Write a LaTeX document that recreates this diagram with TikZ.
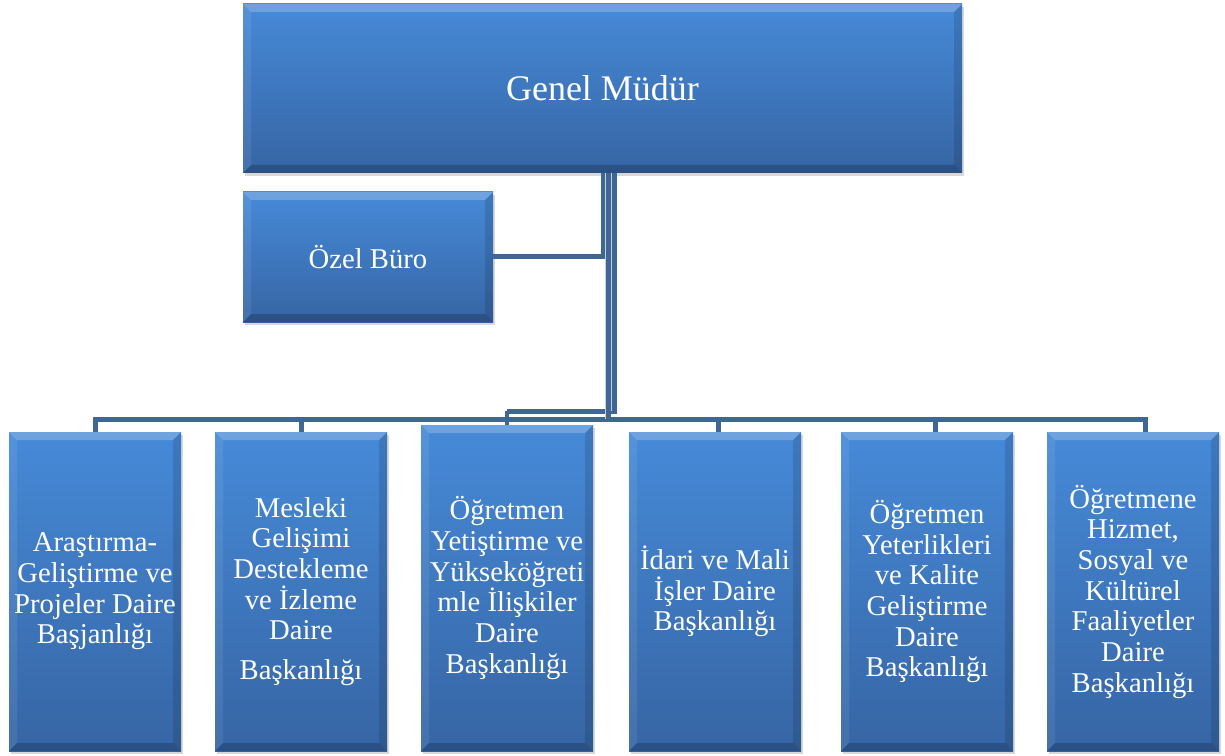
\documentclass[tikz,border=0pt]{standalone}
\usepackage{fontspec}
\setmainfont{Liberation Serif}
\usetikzlibrary{shadows,calc}
\definecolor{conn}{RGB}{62,103,150}
\definecolor{btop}{RGB}{70,138,216}
\definecolor{bbot}{RGB}{54,101,164}
\tikzset{
  orgbox/.style={draw=none, top color=btop, bottom color=bbot, text=white,
    align=center, inner sep=0pt,
    font=\fontsize{21.5}{23}\selectfont,
    drop shadow={shadow xshift=1.5pt, shadow yshift=-2pt, opacity=0.25, fill=black!60},
    path picture={
      \coordinate (nw) at (path picture bounding box.north west);
      \coordinate (ne) at (path picture bounding box.north east);
      \coordinate (sw) at (path picture bounding box.south west);
      \coordinate (se) at (path picture bounding box.south east);
      \fill[white,opacity=0.22] (nw) -- (ne) -- ($(ne)+(-6pt,-6pt)$) -- ($(nw)+(6pt,-6pt)$) -- cycle;
      \fill[white,opacity=0.08] (nw) -- ($(nw)+(6pt,-6pt)$) -- ($(sw)+(6pt,6pt)$) -- (sw) -- cycle;
      \fill[black,opacity=0.12] (ne) -- ($(ne)+(-6pt,-6pt)$) -- ($(se)+(-6pt,6pt)$) -- (se) -- cycle;
      \fill[black,opacity=0.2] (sw) -- ($(sw)+(6pt,6pt)$) -- ($(se)+(-6pt,6pt)$) -- (se) -- cycle;
    }},
  smallbox/.style={orgbox, minimum width=129pt, minimum height=239.25pt},
  connline/.style={draw=conn, line width=3.75pt}
}
\begin{document}
\begin{tikzpicture}[x=0.75pt,y=-0.75pt]
\useasboundingbox (0,0) rectangle (1225,756);
\fill[white] (0,0) rectangle (1225,756);

\coordinate (hb) at (0,419);
\coordinate (h3) at (0,411);

\node[orgbox, minimum width=539.25pt, minimum height=126.75pt,
      font=\fontsize{27}{30}\selectfont] (gm) at (602.5,88.5) {Genel Müdür};
\node[orgbox, minimum width=187.5pt, minimum height=97.5pt] (oz) at (368,257) {Özel Büro};

\node[smallbox] (b1) at (95,591.5) {Araştırma-\\Geliştirme ve\\Projeler Daire\\Başjanlığı};
\node[smallbox] (b2) at (301,591.5) {Mesleki\\Gelişimi\\Destekleme\\ve İzleme\\Daire\\[7pt]Başkanlığı};
\node[smallbox, minimum height=244.5pt] (b3) at (507,588) {Öğretmen\\Yetiştirme ve\\Yükseköğreti\\mle İlişkiler\\Daire\\Başkanlığı};
\node[smallbox] (b4) at (715,591.5) {İdari ve Mali\\İşler Daire\\Başkanlığı};
\node[smallbox] (b5) at (927,591.5) {Öğretmen\\Yeterlikleri\\ve Kalite\\Geliştirme\\Daire\\Başkanlığı};
\node[smallbox] (b6) at (1133,591.5) {Öğretmene\\Hizmet,\\Sosyal ve\\Kültürel\\Faaliyetler\\Daire\\Başkanlığı};

\coordinate (d1) at (b1.north);
\coordinate (d2) at (b2.north);
\coordinate (d4) at ([xshift=2.25pt]b4.north);
\coordinate (d5) at ([xshift=6pt]b5.north);
\coordinate (d6) at ([xshift=9pt]b6.north);

\draw[connline] ([xshift=0.375pt]gm.south) |- (oz.east);
\foreach \d in {d1,d2,d4,d5,d6}{
  \draw[connline] ([xshift=4.5pt]gm.south) |- (hb -| \d) -- (\d);
}
\draw[connline] ([xshift=8.625pt]gm.south) |- (h3 -| b3.north);
\draw[connline, line width=3pt] (h3 -| b3.north) -- (b3.north);
\draw[white!70!conn, line width=0.5pt] ([xshift=2.44pt]gm.south) -- ([xshift=2.44pt]gm.south |- hb);
\draw[white!70!conn, line width=0.5pt] ([xshift=6.56pt]gm.south) -- ([xshift=6.56pt]gm.south |- h3);
\end{tikzpicture}
\end{document}
